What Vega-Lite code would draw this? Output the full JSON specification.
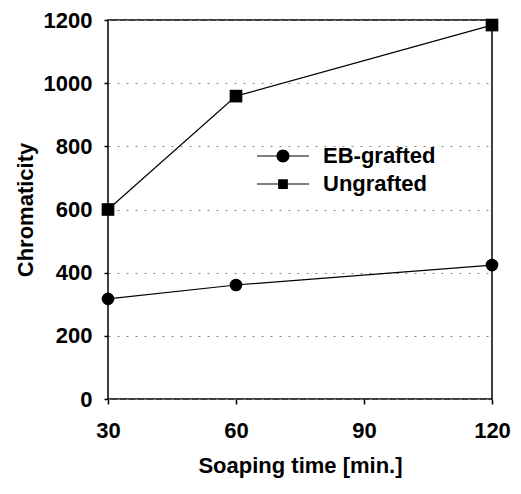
{
  "$schema": "https://vega.github.io/schema/vega-lite/v6.json",
  "autosize": "none",
  "width": 384,
  "height": 379,
  "padding": {"left": 108, "top": 20, "right": 29, "bottom": 95},
  "background": "white",
  "config": {
    "view": {"stroke": "black", "strokeWidth": 1.5},
    "font": "Liberation Sans",
    "axis": {
      "labelFont": "Liberation Sans",
      "labelFontWeight": "bold",
      "labelFontSize": 22,
      "labelColor": "black",
      "titleFont": "Liberation Sans",
      "titleFontWeight": "bold",
      "titleFontSize": 22,
      "titleColor": "black",
      "domain": false,
      "tickColor": "black",
      "tickWidth": 1.5,
      "tickSize": 5,
      "labelFlush": false
    }
  },
  "data": {
    "values": [
      {"time": 30, "value": 317, "series": "EB-grafted"},
      {"time": 60, "value": 361, "series": "EB-grafted"},
      {"time": 120, "value": 424, "series": "EB-grafted"},
      {"time": 30, "value": 600, "series": "Ungrafted"},
      {"time": 60, "value": 959, "series": "Ungrafted"},
      {"time": 120, "value": 1184, "series": "Ungrafted"}
    ]
  },
  "resolve": {"scale": {"shape": "independent"}},
  "layer": [
    {
      "mark": {"type": "line", "color": "black", "strokeWidth": 1.2},
      "encoding": {
        "x": {"field": "time", "type": "quantitative"},
        "y": {"field": "value", "type": "quantitative"},
        "detail": {"field": "series"}
      }
    },
    {
      "mark": {"type": "point", "filled": true, "color": "black", "size": 160, "opacity": 1},
      "encoding": {
        "x": {
          "field": "time",
          "type": "quantitative",
          "scale": {"domain": [30, 120], "nice": false, "zero": false},
          "axis": {
            "values": [30, 60, 90, 120],
            "grid": false,
            "labelPadding": 16,
            "title": "Soaping time [min.]",
            "titlePadding": 14
          }
        },
        "y": {
          "field": "value",
          "type": "quantitative",
          "scale": {"domain": [0, 1200], "nice": false},
          "axis": {
            "values": [0, 200, 400, 600, 800, 1000, 1200],
            "format": "d",
            "grid": true,
            "gridColor": "#888",
            "gridDash": [2, 7],
            "gridWidth": 1,
            "labelPadding": 12,
            "tickSize": 4,
            "title": "Chromaticity",
            "titlePadding": 6
          }
        },
        "shape": {
          "field": "series",
          "type": "nominal",
          "scale": {"domain": ["EB-grafted", "Ungrafted"], "range": ["circle", "square"]},
          "legend": null
        }
      }
    },
    {
      "mark": {"type": "point", "fill": "black", "stroke": "black", "strokeWidth": 0, "size": 160, "opacity": 0},
      "encoding": {
        "x": {"field": "time", "type": "quantitative"},
        "y": {"field": "value", "type": "quantitative"},
        "shape": {
          "field": "series",
          "type": "nominal",
          "scale": {
            "domain": ["EB-grafted", "Ungrafted"],
            "range": [
              "M-4,-0.09L-0.9,-0.09L-0.9,0.09L-4,0.09Z M0.9,-0.09L4,-0.09L4,0.09L0.9,0.09Z M1,0A1,1,0,1,1,-1,0A1,1,0,1,1,1,0Z",
              "M-4,-0.09L-0.7,-0.09L-0.7,0.09L-4,0.09Z M0.7,-0.09L4,-0.09L4,0.09L0.7,0.09Z M-0.75,-0.75L0.75,-0.75L0.75,0.75L-0.75,0.75Z"
            ]
          },
          "legend": {
            "title": null,
            "orient": "none",
            "legendX": 164,
            "legendY": 125,
            "labelFont": "Liberation Sans",
            "labelFontWeight": "bold",
            "labelFontSize": 22,
            "labelColor": "black",
            "symbolSize": 169,
            "symbolOpacity": 1,
            "symbolFillColor": "black",
            "symbolStrokeColor": "black",
            "symbolStrokeWidth": 0,
            "labelOffset": 29,
            "rowPadding": 6
          }
        }
      }
    }
  ]
}
